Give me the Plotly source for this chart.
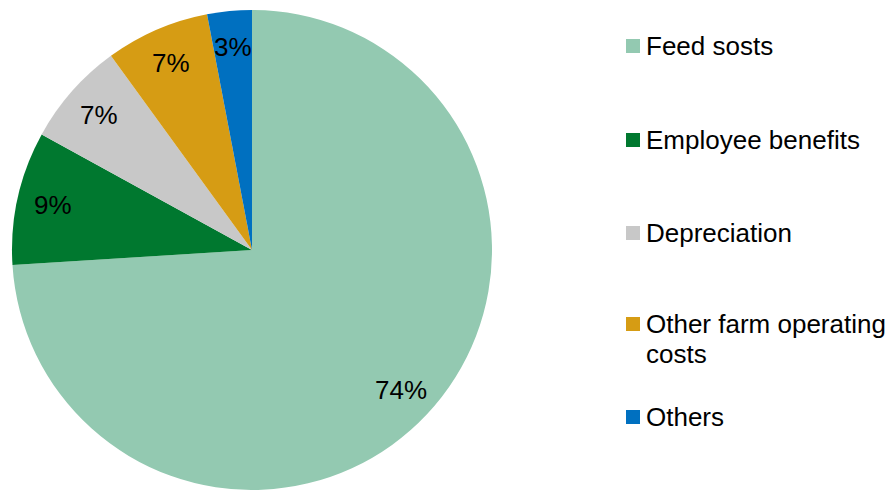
import math
import plotly.graph_objects as go

# Cost breakdown (share of total, %)
labels = ["Feed sosts", "Employee benefits", "Depreciation",
          "Other farm operating costs", "Others"]
values = [74, 9, 7, 7, 3]
colors = ["#93C9B1", "#00782F", "#C8C8C8", "#D69C14", "#0070C0"]
legend_lines = [["Feed sosts"], ["Employee benefits"], ["Depreciation"],
                ["Other farm operating", "costs"], ["Others"]]

W, H = 894, 490
FONT = "Liberation Sans, Arial, sans-serif"

# pie placement in pixels
cx, cy, R = 252, 250, 240

fig = go.Figure(go.Pie(
    labels=labels,
    values=values,
    marker=dict(colors=colors, line=dict(width=0)),
    sort=False,
    direction="clockwise",
    rotation=0,
    textinfo="none",
    hoverinfo="label+percent",
    showlegend=False,
    domain=dict(x=[(cx - R) / W, (cx + R) / W],
                y=[(H - cy - R) / H, (H - cy + R) / H]),
))

annotations = []
shapes = []

# percentage labels at the middle angle of each slice
total = sum(values)
cum = 0.0
for v in values:
    mid = (cum + v / 2) / total * 2 * math.pi  # clockwise from 12 o'clock
    cum += v
    r = 0.85 * R
    px = cx + r * math.sin(mid)
    py = cy - r * math.cos(mid)
    annotations.append(dict(
        x=px / W, y=1 - py / H, xref="paper", yref="paper",
        text=f"{round(v / total * 100)}%", showarrow=False,
        font=dict(family=FONT, size=26, color="#000000"),
        xanchor="center", yanchor="middle",
    ))

# legend: square swatch plus label text
legend_y = [46, 140, 233, 324, 417]
line_gap = 30
for lines, col, ly in zip(legend_lines, colors, legend_y):
    shapes.append(dict(
        type="rect", xref="paper", yref="paper",
        x0=626 / W, x1=640 / W, y0=1 - (ly + 7) / H, y1=1 - (ly - 7) / H,
        fillcolor=col, line=dict(width=0),
    ))
    for k, t in enumerate(lines):
        annotations.append(dict(
            x=644 / W, y=1 - (ly + k * line_gap) / H,
            xref="paper", yref="paper", text=t, showarrow=False,
            font=dict(family=FONT, size=26, color="#000000"),
            xanchor="left", yanchor="middle",
        ))

fig.update_layout(
    width=W, height=H,
    margin=dict(l=0, r=0, t=0, b=0),
    paper_bgcolor="#FFFFFF",
    plot_bgcolor="#FFFFFF",
    annotations=annotations,
    shapes=shapes,
)

fig.write_html("out.html")
